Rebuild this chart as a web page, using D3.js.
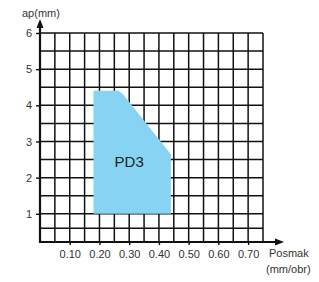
<!DOCTYPE html>
<html>
<head>
<meta charset="utf-8">
<script src="https://cdn.jsdelivr.net/npm/d3@7"></script>
<style>
  body { margin: 0; background: #fff; }
  text { font-family: "Liberation Sans", Arial, sans-serif; fill: #333; }
</style>
</head>
<body>
<svg id="chart"></svg>
<script>

// DATA

const xTicks = [0.10, 0.20, 0.30, 0.40, 0.50, 0.60, 0.70];
const yTicks = [1, 2, 3, 4, 5, 6];

const xGrid = [0.05, 0.10, 0.15, 0.20, 0.25, 0.30, 0.35, 0.40, 0.45, 0.50, 0.55, 0.60, 0.65, 0.70, 0.75];
const yGrid = [0.6, 1, 1.5, 2, 2.5, 3, 3.5, 4, 4.5, 5, 5.5, 6];

// PD3 area outline (posmak, ap)
const areaX = [0.18, 0.18, 0.265, 0.28, 0.44, 0.44];
const areaY = [1.0, 4.4, 4.4, 4.3, 2.65, 1.0];

const areaName = "PD3";


// CHART

let width = 319;
let height = 282;

let svg = d3.select("#chart")
    .attr("width", width)
    .attr("height", height);

let x = d3.scaleLinear().domain([0, 0.75]).range([40, 263]);
let y = d3.scaleLinear().domain([0.22, 6]).range([242, 33]);

let ink = "#111";

// grid first, the area hides it
let gridG = svg.append("g");

for (let v of xGrid) {
    gridG.append("line")
        .attr("x1", x(v)).attr("x2", x(v))
        .attr("y1", y(6)).attr("y2", y(0.22))
        .attr("stroke", ink)
        .attr("stroke-width", 1.5);
}

for (let v of yGrid) {
    gridG.append("line")
        .attr("x1", x(0)).attr("x2", x(0.75))
        .attr("y1", y(v)).attr("y2", y(v))
        .attr("stroke", ink)
        .attr("stroke-width", 1.5);
}

let points = areaX.map(function (d, i) {
    return [x(d), y(areaY[i])];
});

svg.append("path")
    .attr("d", d3.line()(points) + "Z")
    .attr("fill", "#86d3f3");

svg.append("text")
    .attr("x", x(0.30))
    .attr("y", y(2.0) - 11)
    .attr("text-anchor", "middle")
    .attr("font-size", 15)
    .style("fill", "#222")
    .text(areaName);


// axes

let xAxis = d3.axisBottom(x)
    .tickValues(xTicks)
    .tickFormat(d3.format(".2f"))
    .tickSize(3)
    .tickPadding(5);

let yAxis = d3.axisLeft(y)
    .tickValues(yTicks)
    .tickFormat(d3.format("d"))
    .tickSize(4)
    .tickPadding(4);

let xg = svg.append("g")
    .attr("transform", "translate(0," + y(0.22) + ")")
    .call(xAxis);

let yg = svg.append("g")
    .attr("transform", "translate(" + x(0) + ",0)")
    .call(yAxis);

for (let g of [xg, yg]) {
    g.select(".domain").remove();
    g.selectAll(".tick line").attr("stroke", ink).attr("stroke-width", 1.4);
    g.selectAll(".tick text")
        .attr("font-size", 11)
        .style("font-family", "'Liberation Sans', Arial, sans-serif")
        .style("fill", "#333");
}

// axis lines with arrows

svg.append("line")
    .attr("x1", x(0)).attr("x2", x(0))
    .attr("y1", y(0.22) + 1).attr("y2", 25)
    .attr("stroke", ink)
    .attr("stroke-width", 2.2);

svg.append("path")
    .attr("d", d3.line()([[x(0), 19], [x(0) - 3.5, 28], [x(0) + 3.5, 28]]) + "Z")
    .attr("fill", ink);

svg.append("line")
    .attr("x1", x(0) - 1).attr("x2", 277)
    .attr("y1", y(0.22)).attr("y2", y(0.22))
    .attr("stroke", ink)
    .attr("stroke-width", 2.2);

svg.append("path")
    .attr("d", d3.line()([[284, y(0.22)], [275, y(0.22) - 3.5], [275, y(0.22) + 3.5]]) + "Z")
    .attr("fill", ink);

// axis titles

svg.append("text")
    .attr("x", 22)
    .attr("y", 17)
    .attr("font-size", 11)
    .text("ap(mm)");

svg.append("text")
    .attr("x", 269)
    .attr("y", 257)
    .attr("font-size", 11)
    .text("Posmak");

svg.append("text")
    .attr("x", 266)
    .attr("y", 273)
    .attr("font-size", 11)
    .text("(mm/obr)");

</script>
</body>
</html>
